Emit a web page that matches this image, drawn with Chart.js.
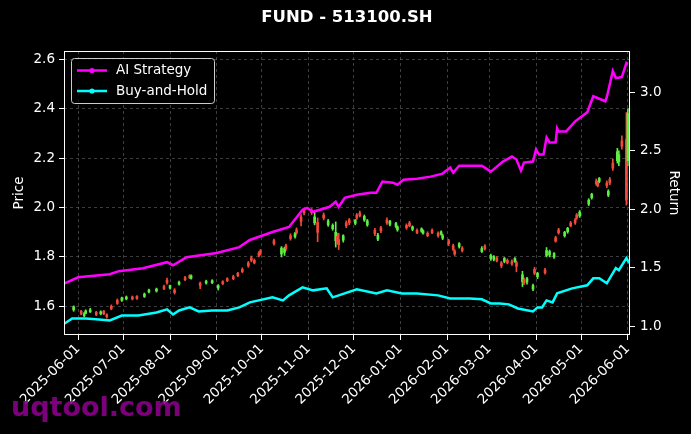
<!DOCTYPE html>
<html><head><meta charset="utf-8">
<script src="https://cdn.jsdelivr.net/npm/chart.js@4.4.1/dist/chart.umd.min.js"></script>
<style>html,body{margin:0;padding:0;background:#000;}#wrap{width:691px;height:434px;}</style>
</head><body><div id="wrap"><canvas id="c" width="691" height="434"></canvas></div>
<script>
// ---------- data ----------
const candleDates = ['2025-05-29','2025-06-03','2025-06-05','2025-06-06','2025-06-09','2025-06-13','2025-06-16','2025-06-18','2025-06-20','2025-06-23',
'2025-06-27','2025-06-30','2025-07-03','2025-07-07','2025-07-10','2025-07-15','2025-07-18','2025-07-23','2025-07-28','2025-07-30',
'2025-08-01','2025-08-04','2025-08-07','2025-08-11','2025-08-14','2025-08-15','2025-08-21','2025-08-25','2025-08-29','2025-09-02',
'2025-09-05','2025-09-08','2025-09-12','2025-09-15','2025-09-18','2025-09-22','2025-09-24','2025-09-26','2025-09-29','2025-09-30',
'2025-10-09','2025-10-14','2025-10-16','2025-10-17','2025-10-20','2025-10-23','2025-10-24','2025-10-27','2025-10-29','2025-11-03',
'2025-11-05','2025-11-07','2025-11-11','2025-11-14','2025-11-17','2025-11-19','2025-11-20','2025-11-21','2025-11-24','2025-11-26',
'2025-11-28','2025-12-02','2025-12-03','2025-12-05','2025-12-08','2025-12-10','2025-12-15','2025-12-17','2025-12-19','2025-12-23',
'2025-12-25','2025-12-29','2025-12-30','2026-01-05','2026-01-07','2026-01-09','2026-01-12','2026-01-15','2026-01-16','2026-01-19',
'2026-01-22','2026-01-26','2026-01-28','2026-01-29','2026-02-02','2026-02-05','2026-02-06','2026-02-09','2026-02-11','2026-02-24',
'2026-02-26','2026-03-02','2026-03-04','2026-03-06','2026-03-09','2026-03-11','2026-03-13','2026-03-16','2026-03-18','2026-03-19',
'2026-03-23','2026-03-24','2026-03-26','2026-03-30','2026-03-31','2026-04-02','2026-04-07','2026-04-08','2026-04-10','2026-04-13',
'2026-04-14','2026-04-16','2026-04-20','2026-04-22','2026-04-24','2026-04-27','2026-04-28','2026-04-30','2026-05-06','2026-05-08',
'2026-05-11','2026-05-12','2026-05-13','2026-05-18','2026-05-19','2026-05-20','2026-05-22','2026-05-25','2026-05-26','2026-05-28',
'2026-05-31','2026-06-01'];
const candleOpen = [1.586,1.580,1.562,1.572,1.578,1.576,1.570,1.580,1.566,1.600,
1.624,1.624,1.630,1.638,1.640,1.640,1.658,1.662,1.680,1.706,
1.674,1.666,1.690,1.716,1.724,1.714,1.694,1.694,1.696,1.674,
1.700,1.712,1.720,1.734,1.750,1.776,1.796,1.786,1.816,1.824,
1.866,1.812,1.818,1.846,1.886,1.882,1.910,1.962,1.990,1.990,
1.938,1.940,1.970,1.930,1.914,1.866,1.884,1.870,1.868,1.938,
1.950,1.936,1.970,1.978,1.950,1.930,1.908,1.872,1.918,1.950,
1.932,1.924,1.910,1.928,1.938,1.912,1.908,1.904,1.896,1.896,
1.908,1.896,1.892,1.876,1.866,1.846,1.824,1.842,1.836,1.822,
1.844,1.792,1.790,1.796,1.776,1.782,1.786,1.782,1.782,1.778,
1.700,1.708,1.698,1.670,1.750,1.720,1.748,1.806,1.808,1.800,
1.878,1.910,1.886,1.902,1.938,1.950,1.970,1.966,2.014,2.040,
2.108,2.100,2.106,2.100,2.050,2.114,2.180,2.190,2.186,2.270,
2.275,2.190];
const candleHigh = [1.602,1.584,1.575,1.586,1.592,1.580,1.582,1.584,1.570,1.606,
1.630,1.638,1.642,1.642,1.644,1.654,1.670,1.674,1.686,1.714,
1.686,1.672,1.702,1.722,1.728,1.728,1.698,1.706,1.708,1.688,
1.704,1.716,1.726,1.738,1.756,1.782,1.804,1.792,1.822,1.830,
1.872,1.842,1.840,1.852,1.894,1.900,1.918,1.972,1.998,1.996,
1.984,1.958,1.978,1.952,1.934,1.942,1.896,1.896,1.890,1.946,
1.956,1.952,1.976,1.986,1.970,1.952,1.916,1.896,1.924,1.958,
1.948,1.940,1.926,1.934,1.944,1.926,1.914,1.918,1.910,1.902,
1.914,1.902,1.906,1.892,1.872,1.852,1.830,1.858,1.842,1.842,
1.850,1.812,1.806,1.802,1.782,1.798,1.792,1.788,1.798,1.784,
1.742,1.716,1.718,1.690,1.758,1.738,1.754,1.838,1.828,1.818,
1.884,1.916,1.904,1.920,1.944,1.956,1.976,1.988,2.036,2.058,
2.116,2.108,2.122,2.108,2.072,2.122,2.196,2.240,2.230,2.290,
2.385,2.400];
const candleLow = [1.580,1.566,1.558,1.570,1.575,1.562,1.566,1.566,1.552,1.586,
1.608,1.620,1.626,1.626,1.628,1.636,1.654,1.658,1.668,1.690,
1.670,1.650,1.686,1.704,1.712,1.710,1.672,1.690,1.692,1.666,
1.688,1.700,1.708,1.720,1.736,1.758,1.780,1.772,1.800,1.808,
1.848,1.800,1.806,1.826,1.868,1.876,1.892,1.926,1.970,1.972,
1.930,1.862,1.950,1.924,1.908,1.840,1.852,1.830,1.860,1.918,
1.930,1.930,1.952,1.962,1.944,1.924,1.886,1.866,1.898,1.932,
1.926,1.918,1.904,1.912,1.922,1.906,1.894,1.900,1.892,1.882,
1.894,1.880,1.888,1.870,1.846,1.826,1.806,1.836,1.820,1.818,
1.828,1.786,1.784,1.780,1.756,1.776,1.772,1.766,1.778,1.740,
1.680,1.688,1.690,1.664,1.728,1.712,1.730,1.800,1.800,1.794,
1.860,1.892,1.880,1.896,1.922,1.932,1.952,1.960,2.008,2.034,
2.090,2.084,2.100,2.080,2.044,2.092,2.150,2.180,2.170,2.236,
2.010,2.170];
const candleClose = [1.598,1.570,1.570,1.582,1.586,1.566,1.578,1.570,1.558,1.590,
1.612,1.634,1.638,1.630,1.632,1.650,1.666,1.670,1.672,1.696,
1.684,1.656,1.698,1.708,1.716,1.724,1.684,1.702,1.704,1.684,
1.692,1.704,1.712,1.724,1.740,1.764,1.786,1.776,1.806,1.814,
1.854,1.836,1.834,1.834,1.874,1.894,1.898,1.944,1.978,1.980,
1.962,1.900,1.958,1.946,1.928,1.900,1.862,1.850,1.886,1.926,
1.938,1.948,1.958,1.966,1.964,1.946,1.894,1.888,1.906,1.938,
1.944,1.936,1.922,1.918,1.926,1.922,1.898,1.914,1.906,1.886,
1.898,1.886,1.902,1.886,1.854,1.832,1.812,1.854,1.826,1.834,
1.832,1.806,1.802,1.784,1.764,1.794,1.776,1.772,1.794,1.762,
1.728,1.694,1.712,1.684,1.734,1.734,1.736,1.826,1.822,1.814,
1.864,1.898,1.900,1.916,1.926,1.938,1.958,1.982,2.030,2.054,
2.096,2.088,2.118,2.088,2.066,2.100,2.160,2.226,2.214,2.248,
2.030,2.380];

const aiDates = ['2025-05-23','2025-06-01','2025-06-22','2025-06-28','2025-07-14','2025-07-30','2025-08-03','2025-08-12','2025-09-01','2025-09-16',
'2025-09-23','2025-10-08','2025-10-19','2025-10-28','2025-10-31','2025-11-04','2025-11-15','2025-11-19','2025-11-21','2025-11-25',
'2025-12-03','2025-12-12','2025-12-16','2025-12-20','2025-12-27','2025-12-30','2026-01-03','2026-01-12','2026-01-21','2026-01-29',
'2026-02-03','2026-02-05','2026-02-09','2026-02-24','2026-03-02','2026-03-06','2026-03-10','2026-03-16','2026-03-19','2026-03-22',
'2026-03-24','2026-03-30','2026-04-01','2026-04-03','2026-04-06','2026-04-08','2026-04-10','2026-04-14','2026-04-15','2026-04-16',
'2026-04-21','2026-04-27','2026-05-05','2026-05-09','2026-05-17','2026-05-18','2026-05-22','2026-05-24','2026-05-28','2026-05-31',
'2026-06-01'];
const aiValues = [1.367,1.419,1.445,1.471,1.497,1.548,1.522,1.591,1.626,1.677,
1.738,1.806,1.849,1.996,2.013,1.979,2.022,2.065,2.022,2.099,
2.125,2.142,2.142,2.237,2.228,2.211,2.254,2.262,2.280,2.306,
2.357,2.314,2.374,2.374,2.323,2.366,2.409,2.452,2.426,2.331,
2.400,2.409,2.512,2.469,2.469,2.615,2.572,2.572,2.693,2.667,
2.667,2.753,2.830,2.968,2.925,2.960,3.183,3.123,3.132,3.252,
3.243];

const bhDates = ['2025-05-23','2025-05-28','2025-06-06','2025-06-15','2025-06-22','2025-06-30','2025-07-11','2025-07-23','2025-07-30','2025-08-03',
'2025-08-07','2025-08-14','2025-08-20','2025-08-29','2025-09-08','2025-09-16','2025-09-23','2025-10-08','2025-10-15','2025-10-19',
'2025-10-28','2025-11-04','2025-11-13','2025-11-17','2025-11-21','2025-12-03','2025-12-16','2025-12-23','2026-01-02','2026-01-12',
'2026-01-26','2026-02-03','2026-02-16','2026-02-24','2026-03-02','2026-03-08','2026-03-14','2026-03-20','2026-03-30','2026-04-02',
'2026-04-05','2026-04-08','2026-04-12','2026-04-15','2026-04-25','2026-05-05','2026-05-09','2026-05-13','2026-05-18','2026-05-24',
'2026-05-26','2026-05-31','2026-06-02'];
const bhValues = [1.023,1.066,1.066,1.057,1.049,1.092,1.092,1.118,1.144,1.101,
1.135,1.161,1.127,1.135,1.135,1.161,1.204,1.247,1.221,1.264,
1.333,1.307,1.324,1.247,1.264,1.316,1.281,1.307,1.281,1.281,
1.264,1.238,1.238,1.230,1.195,1.195,1.187,1.152,1.126,1.161,
1.161,1.221,1.204,1.281,1.324,1.350,1.410,1.410,1.367,1.497,
1.479,1.583,1.540];

const monthTicks = ['2025-06-01','2025-07-01','2025-08-01','2025-09-01','2025-10-01','2025-11-01','2025-12-01',
'2026-01-01','2026-02-01','2026-03-01','2026-04-01','2026-05-01','2026-06-01'];
const priceTicks = [1.6,1.8,2.0,2.2,2.4,2.6];
const returnTicks = [1.0,1.5,2.0,2.5,3.0];
const seriesNames = ['AI Strategy','Buy-and-Hold'];
const titleText = 'FUND - 513100.SH';

// ---------- helpers ----------
const BASE = Date.UTC(2025,5,1);
function dayNum(s){const p=s.split('-').map(Number);return (Date.UTC(p[0],p[1]-1,p[2])-BASE)/86400000;}
const UP='#5cf042', DOWN='#f2493a';
const candleColors = candleOpen.map((o,i)=>candleClose[i]>=o?UP:DOWN);
const wickData = candleDates.map((d,i)=>({x:dayNum(d),y:[candleLow[i],candleHigh[i]]}));
const bodyData = candleDates.map((d,i)=>({x:dayNum(d),y:[Math.min(candleOpen[i],candleClose[i]),Math.max(candleOpen[i],candleClose[i])]}));
const aiData = aiDates.map((d,i)=>({x:dayNum(d),y:aiValues[i]}));
const bhData = bhDates.map((d,i)=>({x:dayNum(d),y:bhValues[i]}));
const tickDays = monthTicks.map(dayNum);
const FONT='DejaVu Sans';
const GRID='rgba(140,140,140,0.55)';

const deco = {
  id:'deco',
  beforeDraw(chart){const c=chart.ctx;c.save();c.fillStyle='#000';c.fillRect(0,0,chart.width,chart.height);c.restore();},
  afterDraw(chart){
    const c=chart.ctx, a=chart.chartArea;
    c.save();
    // spines
    c.setLineDash([]);c.strokeStyle='#fff';c.lineWidth=1;
    const L=Math.round(a.left)+0.5,R=Math.round(a.right)-0.5,T=Math.round(a.top)+0.5,B=Math.round(a.bottom)-0.5;
    c.strokeRect(L,T,R-L,B-T);
    // title
    c.fillStyle='#fff';c.font='bold 16.5px "'+FONT+'"';c.textAlign='center';c.textBaseline='middle';
    c.fillText(titleText,347,18);
    // legend
    c.beginPath();
    if(c.roundRect){c.roundRect(71.5,58.5,143,45,3);}else{c.rect(71.5,58.5,143,45);}
    c.fillStyle='rgba(0,0,0,0.8)';c.fill();c.strokeStyle='#cccccc';c.lineWidth=1;c.stroke();
    const cols=['#ff00ff','#00ffff'];
    [70.5,91].forEach((y,i)=>{
      c.strokeStyle=cols[i];c.lineWidth=2.5;c.beginPath();c.moveTo(77,y);c.lineTo(107,y);c.stroke();
      c.fillStyle=cols[i];c.beginPath();c.arc(92,y,2.6,0,Math.PI*2);c.fill();
      c.fillStyle='#fff';c.font='13.5px "'+FONT+'"';c.textAlign='left';c.textBaseline='middle';
      c.fillText(seriesNames[i],116,y);
    });
    // watermark
    c.globalAlpha=0.9;c.fillStyle='#8a008a';c.font='bold 27px "'+FONT+'"';c.textAlign='left';c.textBaseline='alphabetic';
    c.fillText('uqtool.com',11,416);
    c.restore();
  }
};

new Chart(document.getElementById('c'),{
  type:'bar',
  data:{datasets:[
    {type:'line',label:seriesNames[0],data:aiData,yAxisID:'y1',borderColor:'#ff00ff',borderWidth:2.5,pointRadius:0,tension:0,order:0},
    {type:'line',label:seriesNames[1],data:bhData,yAxisID:'y1',borderColor:'#00ffff',borderWidth:2.5,pointRadius:0,tension:0,order:0},
    {type:'bar',label:'wick',data:wickData,yAxisID:'y',backgroundColor:candleColors,barThickness:1,grouped:false,order:2,borderWidth:0},
    {type:'bar',label:'body',data:bodyData,yAxisID:'y',backgroundColor:candleColors,barThickness:2,grouped:false,order:1,borderWidth:0,minBarLength:1}
  ]},
  options:{
    responsive:false,animation:false,devicePixelRatio:1,
    layout:{padding:{top:51,left:0,right:0,bottom:0}},
    plugins:{legend:{display:false},tooltip:{enabled:false},title:{display:false}},
    scales:{
      x:{type:'linear',min:-9.4,max:366.4,offset:false,
        grid:{offset:false,color:GRID,lineWidth:0.8,tickColor:'#fff',tickBorderDash:[],tickLength:5,tickWidth:1},
        border:{display:false,dash:[3,3]},
        afterBuildTicks:(s)=>{s.ticks=tickDays.map(v=>({value:v}));},
        afterFit:(s)=>{s.height=99;},
        ticks:{autoSkip:false,maxRotation:45,minRotation:45,color:'#fff',font:{family:FONT,size:13.5},padding:1,
          callback:(v)=>{const i=tickDays.indexOf(v);return i>=0?monthTicks[i]:'';}}
      },
      y:{type:'linear',position:'left',min:1.484,max:2.634,
        grid:{color:GRID,lineWidth:0.8,tickColor:'#fff',tickBorderDash:[],tickLength:5,tickWidth:1},
        border:{display:false,dash:[3,3]},
        afterBuildTicks:(s)=>{s.ticks=priceTicks.map(v=>({value:v}));},
        afterFit:(s)=>{s.width=64;},
        ticks:{color:'#fff',font:{family:FONT,size:13.5},padding:4,callback:(v)=>Number(v).toFixed(1)},
        title:{display:true,text:'Price',color:'#fff',font:{family:FONT,size:13.5},padding:{top:11,bottom:0}}
      },
      y1:{type:'linear',position:'right',min:0.925,max:3.355,
        grid:{drawOnChartArea:false,color:'#fff',tickColor:'#fff',tickLength:5,tickWidth:1},
        border:{display:false},
        afterBuildTicks:(s)=>{s.ticks=returnTicks.map(v=>({value:v}));},
        afterFit:(s)=>{s.width=61;},
        ticks:{color:'#fff',font:{family:FONT,size:13.5},padding:5,callback:(v)=>Number(v).toFixed(1)},
        title:{display:true,text:'Return',color:'#fff',font:{family:FONT,size:13.5},padding:{top:9,bottom:0}}
      }
    }
  },
  plugins:[deco]
});
</script></body></html>
